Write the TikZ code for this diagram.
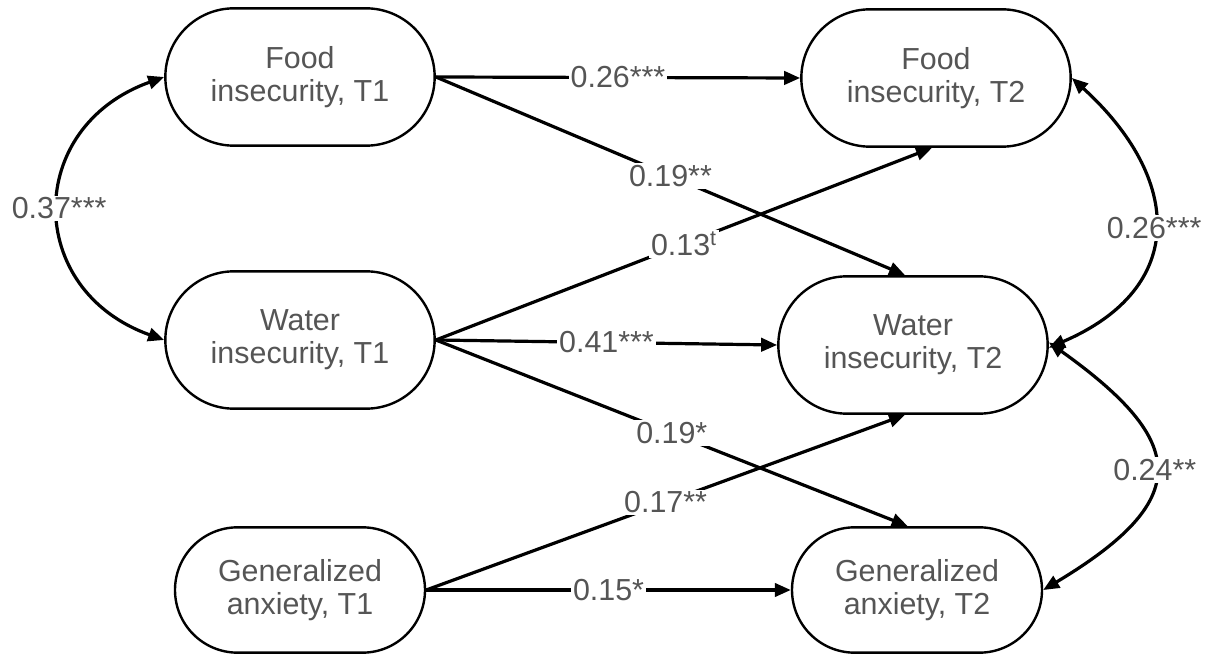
\documentclass[tikz,border=0pt]{standalone}
\usepackage{fontspec}
\setmainfont{Liberation Sans}
\usetikzlibrary{arrows.meta,shapes.misc}

\definecolor{txtgray}{RGB}{85,85,85}

\tikzset{every picture/.style={line width=0.75pt}}
\tikzset{
  latent/.style={rounded rectangle, draw=black, line width=1.8pt, fill=white,
    align=center, text=txtgray, font=\fontsize{22.8}{24.5}\selectfont,
    minimum width=202pt, minimum height=103pt, inner sep=0pt},
  latentsm/.style={latent, minimum width=187.5pt, minimum height=94pt},
  regline/.style={line width=2.4pt, -{Triangle[length=12pt,width=10pt]}},
  covline/.style={line width=2.4pt, {Triangle[length=12pt,width=10pt]}-{Triangle[length=12pt,width=10pt]}},
  coef/.style={fill=white, text=txtgray, font=\fontsize{22.8}{24.5}\selectfont, inner sep=1.5pt}
}

\begin{document}
\begin{tikzpicture}[x=0.75pt,y=0.75pt,yscale=-1,xscale=1]
        \useasboundingbox (0,0) rectangle (1207,655);

        %Shape: Rounded Rect, time 1
        \node[latent] (ft1) at (300,77) {Food\\insecurity, T1};
        \node[latent] (wt1) at (300,340) {Water\\insecurity, T1};
        \node[latentsm] (gt1) at (300,590) {Generalized\\anxiety, T1};

        %Shape: Rounded Rect, time 2
        \node[latent] (ft2) at (936,78) {Food\\insecurity, T2};
        \node[latent] (wt2) at (913,345) {Water\\insecurity, T2};
        \node[latentsm] (gt2) at (917,590) {Generalized\\anxiety, T2};

        %Straight Lines, paths
        \draw[regline] (ft1.east) -- node[coef] {0.26***} (ft2.west);
        \draw[regline] (ft1.east) -- node[coef] {0.19**} ([xshift=-6pt]wt2.north);
        \draw[regline] (wt1.east) -- node[coef] {0.13\textsuperscript{t}} ([xshift=-3pt]ft2.south);
        \draw[regline] (wt1.east) -- node[coef] {0.41***} (wt2.west);
        \draw[regline] (wt1.east) -- node[coef] {0.19*} ([xshift=-7pt]gt2.north);
        \draw[regline] (gt1.east) -- node[coef] {0.17**} ([xshift=-6pt]wt2.south);
        \draw[regline] (gt1.east) -- node[coef] {0.15*} (gt2.west);

        %Curve Lines, covariances
        \draw[covline] (ft1.west) .. controls +(-140,50) and +(-140,-50) .. node[coef] {0.37***} (wt1.west);
        \draw[covline] (ft2.east) .. controls +(110,100) and +(140,-60) .. node[coef] {0.26***} ([yshift=2pt]wt2.east);
        \draw[covline] ([yshift=-2pt]wt2.east) .. controls +(140,100) and +(150,-90) .. node[coef] {0.24**} (gt2.east);

\end{tikzpicture}
\end{document}
